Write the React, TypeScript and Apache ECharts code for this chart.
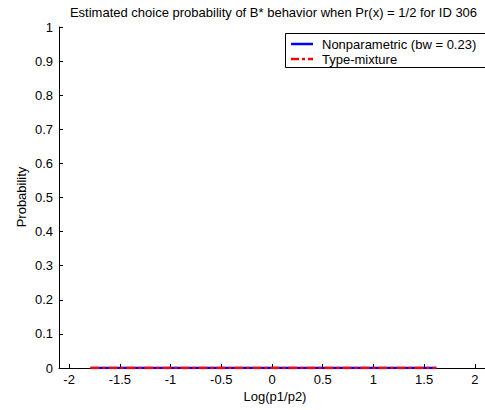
import React, { useEffect, useRef } from "react";
import * as echarts from "echarts";

const xValues = [-1.79, -1.5, -1.0, -0.5, 0.0, 0.5, 1.0, 1.5, 1.62];
const nonparametric = [0, 0, 0, 0, 0, 0, 0, 0, 0];
const typeMixture = [0, 0, 0, 0, 0, 0, 0, 0, 0];
const xTicks = [-2, -1.5, -1, -0.5, 0, 0.5, 1, 1.5, 2];
const titleText = "Estimated choice probability of B* behavior when Pr(x) = 1/2 for ID 306";
const legendNames = ["Nonparametric (bw = 0.23)", "Type-mixture"];

const FONT = "'Liberation Sans', Arial, Helvetica, sans-serif";
const FS = 13;

export default function App() {
  const ref = useRef<HTMLDivElement>(null);
  useEffect(() => {
    if (!ref.current) return;
    const chart = echarts.init(ref.current, null, { renderer: "svg" });
    const pair = (ys: number[]) => xValues.map((x, i) => [x, ys[i]]);
    chart.setOption({
      animation: false,
      backgroundColor: "#ffffff",
      textStyle: { fontFamily: FONT },
      grid: { left: 59, top: 27, bottom: 42, right: -7, containLabel: false },
      xAxis: {
        type: "value",
        min: -2.1,
        max: 2.1,
        splitLine: { show: false },
        axisLine: { show: true, onZero: false, lineStyle: { color: "#000", width: 1 } },
        axisTick: { show: true, inside: true, length: 4, customValues: xTicks, lineStyle: { color: "#000" } },
        axisLabel: { customValues: xTicks, color: "#000", fontSize: FS, margin: 5, fontFamily: FONT },
      },
      yAxis: {
        type: "value",
        min: 0,
        max: 1,
        interval: 0.1,
        splitLine: { show: false },
        axisLine: { show: true, onZero: false, lineStyle: { color: "#000", width: 1 } },
        axisTick: { show: true, inside: true, length: 4, lineStyle: { color: "#000" } },
        axisLabel: { color: "#000", fontSize: FS, margin: 6, fontFamily: FONT },
      },
      series: [
        {
          name: legendNames[0],
          type: "line",
          data: pair(nonparametric),
          showSymbol: false,
          lineStyle: { color: "#0000ff", width: 2.5 },
          z: 3,
        },
        {
          name: legendNames[1],
          type: "line",
          data: pair(typeMixture),
          showSymbol: false,
          lineStyle: { color: "#ff0000", width: 2.5, type: [9, 3, 3, 3] },
          z: 4,
        },
      ],
      graphic: [
        {
          type: "text",
          x: 273.5,
          y: 12,
          style: { text: titleText, fontSize: FS, fontFamily: FONT, fill: "#000", textAlign: "center", textVerticalAlign: "middle" },
        },
        {
          type: "text",
          x: 275,
          y: 396,
          style: { text: "Log(p1/p2)", fontSize: FS, fontFamily: FONT, fill: "#000", textAlign: "center", textVerticalAlign: "middle" },
        },
        {
          type: "text",
          x: 21,
          y: 197,
          rotation: Math.PI / 2,
          style: { text: "Probability", fontSize: FS, fontFamily: FONT, fill: "#000", textAlign: "center", textVerticalAlign: "middle" },
        },
        {
          type: "rect",
          shape: { x: 285.5, y: 33.5, width: 220, height: 34 },
          style: { fill: "#fff", stroke: "#000", lineWidth: 1 },
          z: 10,
        },
        {
          type: "line",
          shape: { x1: 291, y1: 44, x2: 313, y2: 44 },
          style: { stroke: "#0000ff", lineWidth: 2.5 },
          z: 11,
        },
        {
          type: "line",
          shape: { x1: 291, y1: 59, x2: 313, y2: 59 },
          style: { stroke: "#ff0000", lineWidth: 2.5, lineDash: [8, 3, 3, 3] },
          z: 11,
        },
        {
          type: "text",
          x: 322,
          y: 44,
          style: { text: legendNames[0], fontSize: FS, fontFamily: FONT, fill: "#000", textVerticalAlign: "middle" },
          z: 11,
        },
        {
          type: "text",
          x: 322,
          y: 59,
          style: { text: legendNames[1], fontSize: FS, fontFamily: FONT, fill: "#000", textVerticalAlign: "middle" },
          z: 11,
        },
      ],
    });
    return () => chart.dispose();
  }, []);
  return <div ref={ref} style={{ width: 485, height: 410, position: "absolute", left: 0, top: 0 }} />;
}
